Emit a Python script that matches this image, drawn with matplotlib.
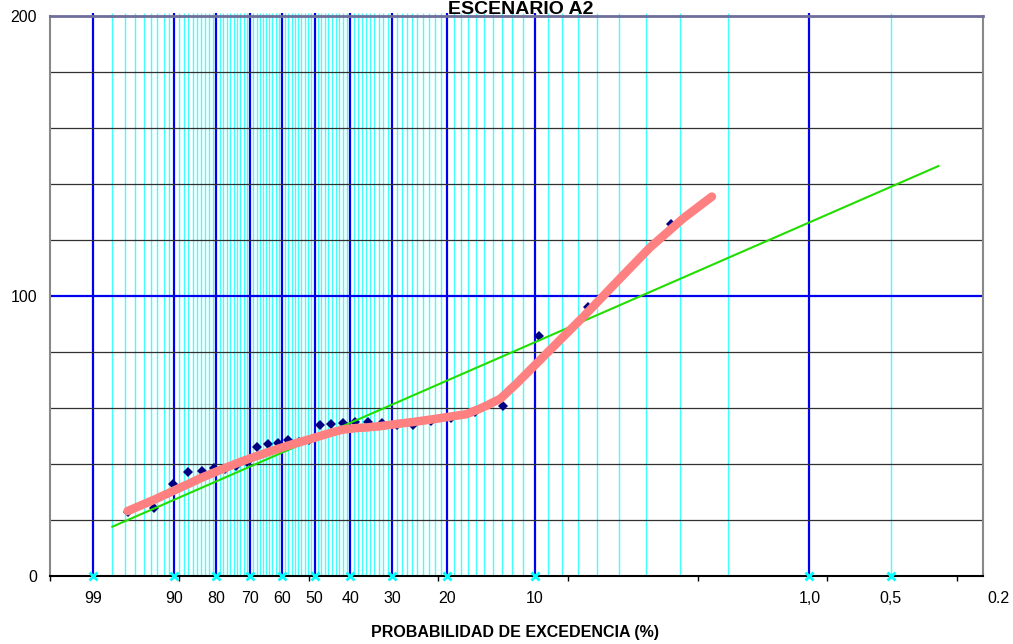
import numpy as np
import matplotlib
matplotlib.use("Agg")
import matplotlib.pyplot as plt
from matplotlib.ticker import NullLocator

plt.rcParams["font.family"] = ["Liberation Sans", "DejaVu Sans"]

# ---- data -------------------------------------------------------------
# observed maxima, exceedance probability (%) and value
obs_prob = [3.23, 6.45, 9.68, 12.90, 16.13, 19.35, 22.58, 25.81, 29.03, 32.26,
            35.48, 38.71, 41.94, 45.16, 48.39, 51.61, 54.84, 58.06, 61.29, 64.52,
            67.74, 70.97, 74.19, 77.42, 80.65, 83.87, 87.10, 90.32, 93.55, 96.77]
obs_value = [125.6, 96.0, 85.7, 60.6, 58.5, 56.6, 55.3, 54.0, 53.9, 54.6,
             55.0, 55.0, 54.8, 54.3, 54.0, 48.6, 47.8, 48.6, 47.5, 47.0,
             46.1, 40.8, 39.4, 38.1, 38.5, 37.6, 37.1, 33.0, 24.4, 23.0]

# fitted Gumbel line
fit_prob = [98.0, 0.333]
fit_value = [17.6, 146.4]

# smoothed adjusted curve
curve_prob = [96.77, 93.55, 90.32, 87.10, 83.87, 80.65, 77.42, 74.19, 70.97, 67.74,
              64.52, 61.29, 58.06, 54.84, 51.61, 48.39, 45.16, 41.94, 38.71, 35.48,
              32.26, 29.03, 25.81, 22.2, 19.35, 17.2, 15.1, 13.2, 11.57, 8.84,
              6.72, 5.10, 3.85, 2.91, 2.29]
curve_value = [23.2, 27.2, 30.3, 32.8, 35.1, 36.9, 38.6, 40.2, 41.6, 42.9,
               44.2, 45.4, 46.6, 47.7, 48.8, 50.0, 51.2, 52.3, 52.8, 53.1,
               53.6, 54.3, 55.0, 56.0, 57.0, 57.8, 60.3, 63.3, 68.8, 80.7,
               92.6, 105.0, 117.4, 127.8, 135.5]

# probability paper rulings
major_prob = [99, 90, 80, 70, 60, 50, 40, 30, 20, 10, 1]
minor_prob = ([98, 97, 96, 95, 94, 93, 92, 91]
              + list(range(89, 80, -1)) + list(range(79, 70, -1))
              + list(range(69, 60, -1)) + list(range(59, 50, -1))
              + list(range(49, 40, -1)) + list(range(39, 30, -1))
              + list(range(29, 20, -1)) + list(range(19, 10, -1))
              + list(range(9, 1, -1)) + [0.5])

label_prob = [99, 90, 80, 70, 60, 50, 40, 30, 20, 10, 1, 0.5, 0.2]
label_text = ["99", "90", "80", "70", "60", "50", "40", "30", "20", "10",
              "1,0", "0,5", "0.2"]


# Gumbel reduced variate scale for exceedance probability in %
def to_gumbel(p):
    p = np.asarray(p, dtype=float)
    with np.errstate(all="ignore"):
        return -np.log(-np.log(1.0 - p / 100.0))


def from_gumbel(y):
    y = np.asarray(y, dtype=float)
    return 100.0 * (1.0 - np.exp(-np.exp(-y)))


T_LEFT, T_RIGHT = -1.902, 6.085

fig = plt.figure(figsize=(10.13, 6.44), dpi=100)
ax = fig.add_axes([49.5 / 1013, 1 - 576 / 644, (983 - 49.5) / 1013, 560 / 644])
ax.set_xscale("function", functions=(to_gumbel, from_gumbel))
ax.set_xlim(float(from_gumbel(T_LEFT)), float(from_gumbel(T_RIGHT)))
ax.set_ylim(0, 200)
# high exceedance probabilities belong on the left
if ax.transData.transform([[99, 0]])[0, 0] > ax.transData.transform([[1, 0]])[0, 0]:
    ax.invert_xaxis()

# vertical rulings
ax.vlines(minor_prob, 0, 201, colors="#40FFFF", lw=1.0, zorder=1, clip_on=False)
ax.vlines(major_prob, 0, 201, colors="#0000EE", lw=1.6, zorder=2, clip_on=False)

# horizontal gridlines
for v in [20, 40, 60, 80, 120, 140, 160, 180]:
    ax.axhline(v, color="#303030", lw=0.9, zorder=3)
ax.axhline(100, color="#0000EE", lw=1.6, zorder=3)

# series
ax.plot(obs_prob, obs_value, "D", color="#000080", ms=5.2, mew=0, zorder=5)
ax.plot(fit_prob, fit_value, color="#22DD00", lw=1.5, zorder=6)
ax.plot(curve_prob, curve_value, color="#FF8080", lw=6.2,
        solid_capstyle="round", solid_joinstyle="round", zorder=7)

# probability markers along the baseline
ax.plot(label_prob[:-1], [0] * (len(label_prob) - 1), "x", color="#00FFFF",
        ms=6, mew=2, zorder=8, clip_on=False)
for p, t in zip(label_prob, label_text):
    ax.annotate(t, (p, 0), xytext=(0, -16.3), textcoords="offset points",
                ha="center", va="center", fontsize=11.5, annotation_clip=False)

# axes styling
step = (T_RIGHT - T_LEFT) / 7.2
ax.set_xticks(from_gumbel(T_LEFT + step * np.arange(8)))
ax.set_xticklabels([])
ax.xaxis.set_minor_locator(NullLocator())
ax.tick_params(axis="x", direction="out", length=3.6, width=1, color="black")
ax.set_yticks([0, 100, 200])
ax.set_yticklabels(["0", "100", "200"], fontsize=11.5)
ax.tick_params(axis="y", length=0, pad=9)
ax.yaxis.set_minor_locator(NullLocator())

ax.spines["top"].set_color("#6E6E9C")
ax.spines["top"].set_linewidth(2)
ax.spines["left"].set_color("#888888")
ax.spines["left"].set_linewidth(1.5)
ax.spines["right"].set_color("#888888")
ax.spines["right"].set_linewidth(1.5)
ax.spines["bottom"].set_color("black")
ax.spines["bottom"].set_linewidth(1.5)
for s in ax.spines.values():
    s.set_zorder(4)

fig.text(521 / 1013, 1 - 10 / 644, "ESCENARIO A2", ha="center", va="center",
         fontsize=14, fontweight="bold", zorder=10)
fig.text(514.5 / 1013, 1 - 632 / 644, "PROBABILIDAD DE EXCEDENCIA (%)",
         ha="center", va="center", fontsize=11.5, fontweight="bold")

fig.savefig("out.png", dpi=100)
